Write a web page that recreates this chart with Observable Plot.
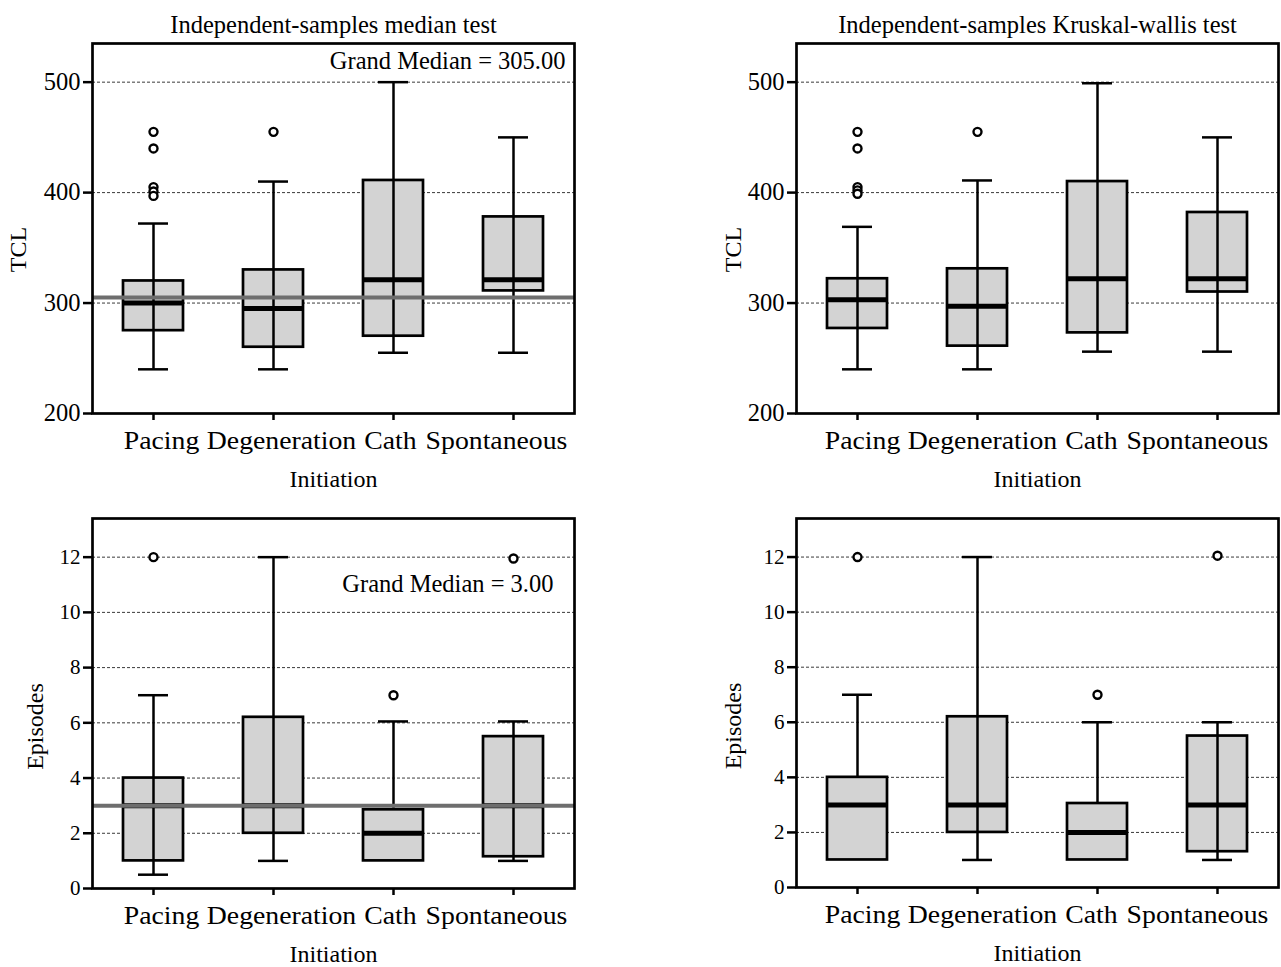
<!DOCTYPE html>
<html>
<head>
<meta charset="utf-8">
<script src="https://cdn.jsdelivr.net/npm/d3@7"></script>
<script src="https://cdn.jsdelivr.net/npm/@observablehq/plot@0.6"></script>
<style>
  html, body { margin: 0; padding: 0; background: white; }
  #root { position: relative; width: 1281px; height: 967px; background: white; }
  .panel { position: absolute; }
  .panel svg { overflow: visible; max-width: none; background: transparent; }
  .panel svg, .panel svg text, .panel svg g { font-family: "Liberation Serif", "Times New Roman", serif !important; font-variant: normal !important; }
</style>
</head>
<body>
<div id="root"></div>
<script>
// ---------------- DATA ----------------
const categories = ["Pacing", "Degeneration", "Cath", "Spontaneous"];

// TCL – Independent-samples median test
const tclMedLow    = [240, 240, 255, 255];
const tclMedQ1     = [275, 260, 270, 311];
const tclMedMedian = [300, 295, 321, 321];
const tclMedQ3     = [320, 330, 411, 378];
const tclMedHigh   = [372, 410, 500, 450];
const tclMedOutCat = ["Pacing", "Pacing", "Pacing", "Pacing", "Pacing", "Degeneration"];
const tclMedOutVal = [455, 440, 405, 401, 397, 455];
const tclGrandMedian = 305;

// TCL – Independent-samples Kruskal-Wallis test
const tclKwLow    = [240, 240, 256, 256];
const tclKwQ1     = [277, 261, 273, 310];
const tclKwMedian = [303, 297, 322, 322];
const tclKwQ3     = [322, 331, 410, 382];
const tclKwHigh   = [369, 411, 499, 450];
const tclKwOutCat = ["Pacing", "Pacing", "Pacing", "Pacing", "Pacing", "Degeneration"];
const tclKwOutVal = [455, 440, 405, 402, 399, 455];

// Episodes – median test
const epMedLow    = [0.5, 1, 1, 1];
const epMedQ1     = [1, 2, 1, 1.15];
const epMedMedian = [3, 3, 2, 3];
const epMedQ3     = [4, 6.2, 2.85, 5.5];
const epMedHigh   = [7, 12, 6.05, 6.05];
const epMedOutCat = ["Pacing", "Cath", "Spontaneous"];
const epMedOutVal = [12, 7, 11.95];
const epGrandMedian = 3;

// Episodes – Kruskal-Wallis test
const epKwLow    = [1, 1, 1, 1];
const epKwQ1     = [1, 2, 1, 1.3];
const epKwMedian = [3, 3, 2, 3];
const epKwQ3     = [4, 6.2, 3.05, 5.5];
const epKwHigh   = [7, 12, 6, 6];
const epKwOutCat = ["Pacing", "Cath", "Spontaneous"];
const epKwOutVal = [12, 7, 12.05];

const tclTicks = [200, 300, 400, 500];
const epTicks  = [0, 2, 4, 6, 8, 10, 12];
const xTitle = "Initiation";
const titles = ["Independent-samples median test", "Independent-samples Kruskal-wallis test"];

// ---------------- HELPERS ----------------
function rowsOf(lo, q1, med, q3, hi) {
  return categories.map((c, i) => ({cat: c, lo: lo[i], q1: q1[i], med: med[i], q3: q3[i], hi: hi[i]}));
}
function outliersOf(cats, vals) {
  return cats.map((c, i) => ({cat: c, value: vals[i]}));
}

const FONT = "Liberation Serif, Times New Roman, serif";
const labelShift = [8, 8, -3, -17];

function panel(cfg) {
  const rows = cfg.rows;
  const marks = [
    Plot.gridY(cfg.ticks.slice(1), {stroke: "#3a3a3a", strokeOpacity: 1, strokeWidth: 1, strokeDasharray: "3,2"}),
    Plot.barY(rows, {x: "cat", y1: "q1", y2: "q3", fill: "#d3d3d3", stroke: "black", strokeWidth: 2.7, insetLeft: 30, insetRight: 30}),
    Plot.ruleX(rows, {x: "cat", y1: d => d.lo < d.q1 ? d.lo : d.q3, y2: "hi", stroke: "black", strokeWidth: 2.5}),
    Plot.tickY(rows.filter(d => d.lo < d.q1), {x: "cat", y: "lo", stroke: "black", strokeWidth: 2.5, inset: 45}),
    Plot.tickY(rows, {x: "cat", y: "hi", stroke: "black", strokeWidth: 2.5, inset: 45}),
    Plot.tickY(rows, {x: "cat", y: "med", stroke: "black", strokeWidth: 5, inset: 31}),
    Plot.dot(cfg.outliers, {x: "cat", y: "value", r: 4, stroke: "black", strokeWidth: 2.4, fill: "white"})
  ];
  if (cfg.grandMedian != null) {
    marks.push(Plot.ruleY([cfg.grandMedian], {stroke: "#6e6e6e", strokeWidth: 4}));
    marks.push(Plot.text([cfg.gmText], {text: d => d, frameAnchor: "top-right", textAnchor: "end", lineAnchor: "top",
      dx: cfg.gmDx, dy: cfg.gmDy, fontSize: 24.5, fill: "black"}));
  }
  marks.push(Plot.frame({stroke: "black", strokeWidth: 2.7}));
  marks.push(Plot.axisY(cfg.ticks, {tickSize: 9, tickPadding: 3, strokeWidth: 2.5, fontSize: cfg.tickFont, label: null}));
  marks.push(Plot.axisX({tickSize: 7, tickFormat: () => "", strokeWidth: 2.5, label: null}));
  categories.forEach((c, i) => {
    marks.push(Plot.text([c], {x: d => d, text: d => d, frameAnchor: "bottom", lineAnchor: "top", dy: 18,
      dx: labelShift[i] + cfg.labelDx, fontSize: 25, fill: "black"}));
  });
  marks.push(Plot.text([xTitle], {text: d => d, frameAnchor: "bottom", lineAnchor: "top", dy: 56, fontSize: 24, fill: "black"}));
  marks.push(Plot.text([cfg.yLabel], {text: d => d, frameAnchor: "left", rotate: -90, textAnchor: "middle", lineAnchor: "middle",
    dx: cfg.yLabelDx, dy: cfg.yLabelDy, fontSize: 24, fill: "black"}));
  if (cfg.title) {
    marks.push(Plot.text([cfg.title], {text: d => d, frameAnchor: "top", lineAnchor: "top", dy: -28, fontSize: 24.5, fill: "black"}));
  }

  const chart = Plot.plot({
    width: cfg.width,
    height: cfg.height,
    marginLeft: cfg.ml, marginRight: cfg.mr, marginTop: cfg.mt, marginBottom: cfg.mb,
    style: {fontFamily: FONT, fontSize: "23px", color: "black", background: "transparent", overflow: "visible"},
    x: {type: "band", domain: categories, padding: 0, axis: null},
    y: {domain: cfg.yDomain, axis: null},
    marks
  });
  // horizontally widen the category labels slightly, as in the reference
  chart.querySelectorAll("text").forEach(t => {
    if (!categories.includes(t.textContent)) return;
    const tr = t.getAttribute("transform");
    if (tr) t.setAttribute("transform", tr + " scale(1.11,1)");
  });
  const div = document.createElement("div");
  div.className = "panel";
  div.style.left = cfg.left + "px";
  div.style.top = cfg.top + "px";
  div.style.width = cfg.width + "px";
  div.style.height = cfg.height + "px";
  div.appendChild(chart);
  document.getElementById("root").appendChild(div);
}

panel({
  left: 0, top: 0, width: 640, height: 484, ml: 92, mr: 66, mt: 43, mb: 71, labelDx: 0,
  rows: rowsOf(tclMedLow, tclMedQ1, tclMedMedian, tclMedQ3, tclMedHigh),
  outliers: outliersOf(tclMedOutCat, tclMedOutVal),
  ticks: tclTicks, yDomain: [200, 535], tickFont: 24.5,
  grandMedian: tclGrandMedian, gmText: "Grand Median = 305.00", gmDx: -9, gmDy: 7.6,
  yLabel: "TCL", yLabelDx: -74.5, yLabelDy: 21, title: titles[0]
});
panel({
  left: 640, top: 0, width: 641, height: 484, ml: 156, mr: 3, mt: 43, mb: 71, labelDx: -3,
  rows: rowsOf(tclKwLow, tclKwQ1, tclKwMedian, tclKwQ3, tclKwHigh),
  outliers: outliersOf(tclKwOutCat, tclKwOutVal),
  ticks: tclTicks, yDomain: [200, 535], tickFont: 24.5,
  grandMedian: null,
  yLabel: "TCL", yLabelDx: -63, yLabelDy: 21, title: titles[1]
});
panel({
  left: 0, top: 484, width: 640, height: 483, ml: 92, mr: 66, mt: 34, mb: 79, labelDx: 0,
  rows: rowsOf(epMedLow, epMedQ1, epMedMedian, epMedQ3, epMedHigh),
  outliers: outliersOf(epMedOutCat, epMedOutVal),
  ticks: epTicks, yDomain: [0, 13.4], tickFont: 21,
  grandMedian: epGrandMedian, gmText: "Grand Median = 3.00", gmDx: -21, gmDy: 55.6,
  yLabel: "Episodes", yLabelDx: -57, yLabelDy: 23, title: null
});
panel({
  left: 640, top: 484, width: 641, height: 483, ml: 156, mr: 3, mt: 34, mb: 80, labelDx: -3,
  rows: rowsOf(epKwLow, epKwQ1, epKwMedian, epKwQ3, epKwHigh),
  outliers: outliersOf(epKwOutCat, epKwOutVal),
  ticks: epTicks, yDomain: [0, 13.4], tickFont: 21,
  grandMedian: null,
  yLabel: "Episodes", yLabelDx: -63, yLabelDy: 23, title: null
});
</script>
</body>
</html>
